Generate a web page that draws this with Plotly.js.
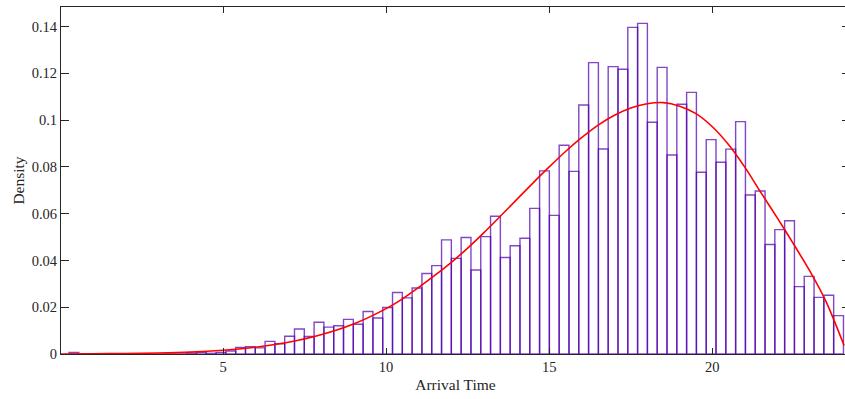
<!DOCTYPE html>
<html>
<head>
<meta charset="utf-8">
<script src="https://cdn.plot.ly/plotly-3.0.1.min.js"></script>
<style>html,body{margin:0;padding:0;background:#fff;overflow:hidden;}#chart{width:851px;height:399px;}</style>
</head>
<body>
<div id="chart"></div>
<script>
// Histogram bins (density), bin start and width in data units
const binStart = 0.28;
const binWidth = 0.3005;
const density = [
  0.0007, 0, 0, 0, 0, 0, 0, 0, 0, 0,
  0, 0, 0.0003, 0.0007, 0.0003, 0.0007, 0.0013, 0.0028, 0.0031, 0.0026,
  0.0054, 0.0044, 0.0076, 0.0107, 0.0075, 0.0136, 0.0115, 0.0121, 0.0148, 0.0127,
  0.0182, 0.0154, 0.0199, 0.0263, 0.0240, 0.0282, 0.0344, 0.0378, 0.0488, 0.0409,
  0.0498, 0.0359, 0.0502, 0.0589, 0.0413, 0.0463, 0.0495, 0.0623, 0.0783, 0.0593,
  0.0893, 0.0781, 0.1065, 0.1246, 0.0877, 0.1229, 0.1218, 0.1397, 0.1414, 0.0991,
  0.1226, 0.0851, 0.1068, 0.1119, 0.0777, 0.0917, 0.0820, 0.0876, 0.0994, 0.0680,
  0.0697, 0.0468, 0.0532, 0.0570, 0.0288, 0.0332, 0.0242, 0.0251, 0.0164
];
// Fitted density curve
const curveX = [0, 1, 2, 3, 4, 5, 6, 7, 8, 9, 10, 10.5, 11, 11.5, 12, 12.5, 13, 13.5, 14, 14.5, 15, 15.5, 16, 16.5, 17, 17.5, 18, 18.5, 19, 19.5, 20, 20.5, 21, 21.5, 22, 22.5, 23, 23.5, 24.04];
const curveY = [0, 0.0001, 0.0002, 0.0004, 0.0008, 0.0016, 0.0029, 0.0050, 0.0082, 0.0128, 0.0194, 0.0236, 0.0285, 0.0337, 0.0392, 0.0453, 0.0519, 0.0589, 0.0660, 0.0731, 0.0800, 0.0866, 0.0926, 0.0979, 0.1021, 0.1052, 0.1070, 0.1075, 0.1060, 0.1028, 0.0972, 0.0895, 0.0798, 0.0688, 0.0580, 0.0468, 0.0352, 0.0220, 0.0036];
// Tick labels
const xTicks = [5, 10, 15, 20];
const xTickText = ['5', '10', '15', '20'];
const yTicks = [0, 0.02, 0.04, 0.06, 0.08, 0.1, 0.12, 0.14];
const yTickText = ['0', '0.02', '0.04', '0.06', '0.08', '0.1', '0.12', '0.14'];

const centers = density.map((_, i) => binStart + binWidth * (i + 0.5));

const axisCommon = {
  showline: true, linecolor: '#262626', linewidth: 1, mirror: 'ticks',
  ticks: 'inside', tickcolor: '#262626', tickwidth: 1,
  showgrid: false, zeroline: false,
  tickfont: {family: 'Liberation Serif', size: 14.5, color: '#262626'}
};

const data = [
  {
    type: 'bar', x: centers, y: density, width: binWidth,
    marker: {color: 'rgba(255,255,255,0)', line: {color: 'rgba(80,0,175,0.72)', width: 1.4}},
    hoverinfo: 'x+y', showlegend: false
  },
  {
    type: 'scatter', mode: 'lines', x: curveX, y: curveY,
    line: {color: '#ff0000', width: 1.6, shape: 'spline', smoothing: 0.8},
    showlegend: false
  }
];

const layout = {
  width: 851, height: 399,
  margin: {l: 61, r: 1, t: 7, b: 45},
  paper_bgcolor: '#ffffff', plot_bgcolor: '#ffffff',
  bargap: 0,
  font: {family: 'Liberation Serif', size: 14.5, color: '#262626'},
  xaxis: Object.assign({}, axisCommon, {
    range: [0.034, 24.22], tickvals: xTicks, ticktext: xTickText, ticklen: 6,
    title: {text: 'Arrival Time', font: {family: 'Liberation Serif', size: 15.5, color: '#262626'}, standoff: 4}
  }),
  yaxis: Object.assign({}, axisCommon, {
    range: [0, 0.1484], tickvals: yTicks, ticktext: yTickText, ticklen: 8,
    title: {text: 'Density', font: {family: 'Liberation Serif', size: 15.5, color: '#262626'}, standoff: 3}
  })
};

Plotly.newPlot('chart', data, layout, {displayModeBar: false, staticPlot: true});
</script>
</body>
</html>
